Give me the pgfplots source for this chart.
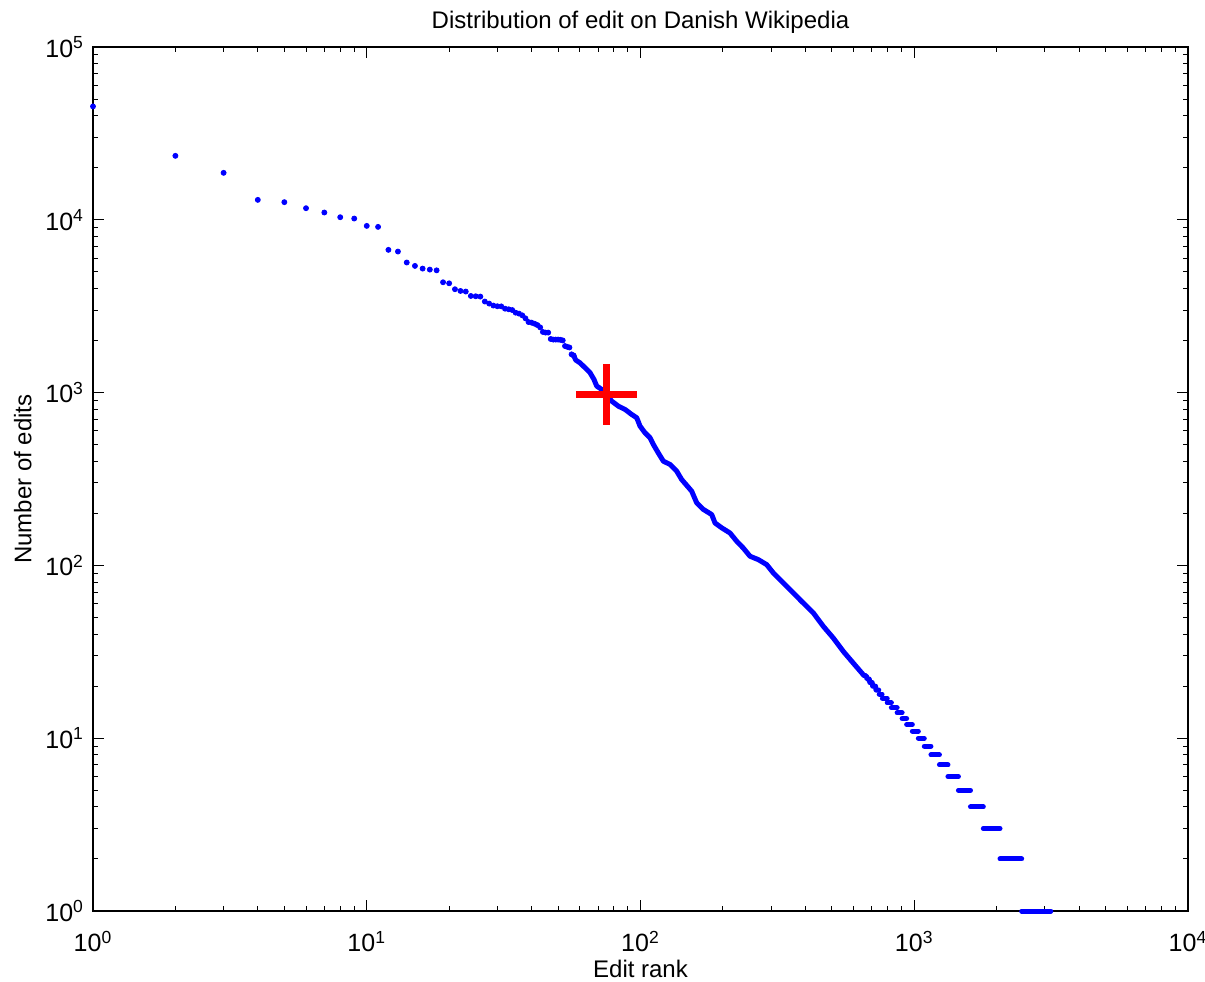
\documentclass[border=0pt]{standalone}
\usepackage{fontspec}
\setmainfont{Liberation Sans}
\usepackage{pgfplots}
\pgfplotsset{compat=1.18}

\begin{document}
\begin{tikzpicture}
% picture frame: 1205 x 981 px at 0.5pt per px, axis box at (0,0)
\useasboundingbox (-46.5pt,-35pt) rectangle (556pt,455.5pt);
\begin{loglogaxis}[
    name=ax,
    scale only axis,
    width=547.5pt, height=432pt,
    xmin=1, xmax=10000, ymin=1, ymax=100000,
    clip=false,
    axis line style={line width=0.7pt},
    tick style={line width=0.5pt, black},
    major tick length=5.5pt, minor tick length=2.5pt,
    tick align=inside,
    tick pos=both,
    xtick={1,10,100,1000,10000},
    xticklabels={10\textsuperscript{0},10\textsuperscript{1},10\textsuperscript{2},10\textsuperscript{3},10\textsuperscript{4}},
    ytick={1,10,100,1000,10000,100000},
    yticklabels={10\textsuperscript{0},10\textsuperscript{1},10\textsuperscript{2},10\textsuperscript{3},10\textsuperscript{4},10\textsuperscript{5}},
    tick label style={font=\fontsize{12.5}{14}\selectfont},
    xticklabel style={yshift=-6.5pt},
    yticklabel style={xshift=-1pt},
    label style={font=\fontsize{12}{14}\selectfont},
    xlabel style={yshift=3pt},
    title style={font=\fontsize{12}{14}\selectfont, yshift=-3pt},
    title={Distribution of edit on Danish Wikipedia},
    xlabel={Edit rank},
    ylabel={Number of edits},
    unbounded coords=jump,
]

% top ranks, single dots
\addplot[only marks, mark=*, mark size=1.25pt, color=blue] coordinates {
    (1,45300) (2,23450) (3,18700) (4,13040) (5,12650) (6,11670)
    (7,11020) (8,10350) (9,10170) (10,9220) (11,9100) (12,6700)
    (13,6550) (14,5660) (15,5410) (16,5220) (17,5150) (18,5100)
    (19,4350) (20,4290) (21,3965) (22,3875) (23,3845) (24,3625)
    (25,3610) (26,3595) (27,3365) (28,3275) (29,3190) (30,3160)
    (31,3155) (32,3060) (33,3035) (34,3005) (35,2900) (36,2865)
    (37,2800) (38,2690) (39,2560) (40,2540) (41,2505) (42,2460)
    (43,2385) (44,2243) (45,2225) (46,2225) (47,2043) (48,2027)
    (49,2027) (50,2027) (51,2020) (52,2005) (53,1860) (54,1840)
    (55,1825) (56,1665) (57,1640)
};

% dense part, dots merge into a band
\addplot[color=blue, line width=2.5pt, line cap=round, line join=round] coordinates {
    (57,1640) (58,1543) (60,1490) (62.7,1394) (65.4,1304) (67.6,1193)
    (69.2,1091) (72.2,1043) (75,975) (78.5,893) (83,835) (87.8,799)
    (92.9,747) (96.9,715) (99.6,640) (103.8,586) (108.3,548) (111.4,501)
    (116.1,448) (121.2,401) (128.2,384) (135.6,351) (141.4,314) (153.8,269)
    (160.5,230) (169.6,211) (182,197) (187.2,176) (198,165) (212.3,154)
    (224.6,138) (237.4,126) (251.2,113) (269.4,108) (289.1,101) (305.6,90.5)
    (323.3,82.8) (342,75.7) (372,66.2) (388,61.9) (427.9,53.1) (465.4,44.4)
    (506.2,38.0) (550.6,31.8) (598.9,27.2) (651.5,23.3)
    (655,23) (668,23) (672,22) (685,22) (688,21) (702,21)
    (705,20) (722,20) (725,19) (742,19)
};

% low counts, runs of equal values
\addplot[color=blue, line width=2.5pt, line cap=round] coordinates {
    (745,18) (763,18) (763,nan)
    (765,17) (797,17) (797,nan)
    (797,16) (825,16) (825,nan)
    (825,15) (866,15) (866,nan)
    (866,14) (903,14) (903,nan)
    (903,13) (938,13) (938,nan)
    (938,12) (984,12) (984,nan)
    (984,11) (1035,11) (1035,nan)
    (1035,10) (1088,10) (1088,nan)
    (1088,9) (1151,9) (1151,nan)
    (1151,8) (1236,8) (1236,nan)
    (1236,7) (1328,7) (1328,nan)
    (1328,6) (1450,6) (1450,nan)
    (1450,5) (1605,5) (1605,nan)
    (1605,4) (1788,4) (1788,nan)
    (1788,3) (2057,3) (2057,nan)
    (2057,2) (2468,2) (2468,nan)
    (2468,1) (3154,1)
};

% marker
\addplot[only marks, color=red, mark=+, mark size=15.25pt, mark options={line width=3.5pt}] coordinates {(75,976)};

\end{loglogaxis}
\end{tikzpicture}
\end{document}
